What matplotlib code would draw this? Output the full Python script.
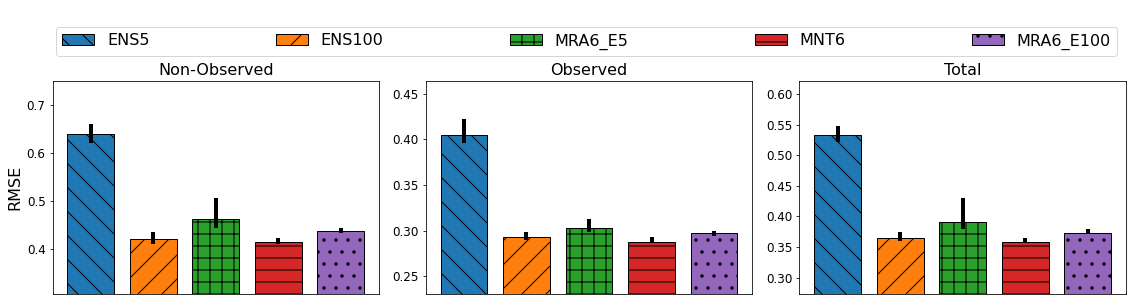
import numpy as np
import matplotlib
matplotlib.use("Agg")
import matplotlib.pyplot as plt

models = ["ENS5", "ENS100", "MRA6_E5", "MNT6", "MRA6_E100"]
colors = ["#1f77b4", "#ff7f0e", "#2ca02c", "#d62728", "#9467bd"]
hatches = ["\\", "/", "+", "-", "."]

panels = ["Non-Observed", "Observed", "Total"]

# bar heights
rmse = {
    "Non-Observed": [0.639, 0.422, 0.462, 0.416, 0.437],
    "Observed": [0.405, 0.293, 0.303, 0.288, 0.297],
    "Total": [0.534, 0.365, 0.391, 0.359, 0.373],
}
# error bar extents (low, high)
err_low = {
    "Non-Observed": [0.622, 0.412, 0.445, 0.412, 0.433],
    "Observed": [0.396, 0.290, 0.299, 0.286, 0.294],
    "Total": [0.522, 0.360, 0.380, 0.357, 0.372],
}
err_high = {
    "Non-Observed": [0.660, 0.435, 0.506, 0.423, 0.444],
    "Observed": [0.422, 0.299, 0.313, 0.293, 0.300],
    "Total": [0.549, 0.374, 0.430, 0.364, 0.379],
}
ylims = {
    "Non-Observed": (0.307, 0.750),
    "Observed": (0.2306, 0.464),
    "Total": (0.273, 0.622),
}
yticks = {
    "Non-Observed": [0.4, 0.5, 0.6, 0.7],
    "Observed": [0.25, 0.30, 0.35, 0.40, 0.45],
    "Total": [0.30, 0.35, 0.40, 0.45, 0.50, 0.55, 0.60],
}
ytick_fmt = {"Non-Observed": "%.1f", "Observed": "%.2f", "Total": "%.2f"}

W, H = 1132, 301
fig = plt.figure(figsize=(W / 72, H / 72), dpi=72)

lefts = [52.5, 425.7, 799.3]
ax_w = 326.6
top, bottom = 81, 294

x = np.arange(len(models))
for i, name in enumerate(panels):
    ax = fig.add_axes([lefts[i] / W, 1 - bottom / H, ax_w / W, (bottom - top) / H])
    vals = np.array(rmse[name])
    lo = vals - np.array(err_low[name])
    hi = np.array(err_high[name]) - vals
    for j, m in enumerate(models):
        ax.bar(x[j], vals[j], width=0.75, color=colors[j], hatch=hatches[j],
               edgecolor="black", linewidth=1, label=m)
    ax.errorbar(x, vals, yerr=[lo, hi], fmt="none", ecolor="black",
                elinewidth=4, capsize=0)
    ax.set_ylim(*ylims[name])
    ax.set_yticks(yticks[name])
    ax.yaxis.set_major_formatter(matplotlib.ticker.FormatStrFormatter(ytick_fmt[name]))
    ax.set_xticks([])
    ax.tick_params(axis="y", labelsize=12)
    ax.set_title(name, fontsize=16)
    if i == 0:
        ax.set_ylabel("RMSE", fontsize=16)
        handles, labels = ax.get_legend_handles_labels()

fig.legend(handles, labels, loc="lower left", ncol=5, mode="expand",
           bbox_to_anchor=(56 / W, 1 - 56 / H, (1117 - 56) / W, 29 / H),
           fontsize=16, handlelength=2.0, borderaxespad=0)

fig.savefig("out.png", dpi=72)
